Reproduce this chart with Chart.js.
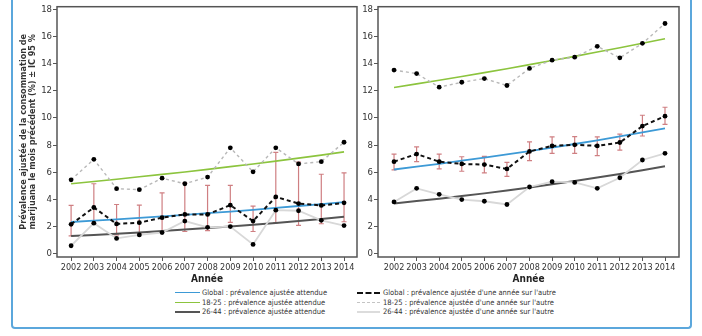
<!DOCTYPE html>
<html>
<head>
<meta charset="utf-8">
<script src="https://cdn.jsdelivr.net/npm/chart.js@4"></script>
<style>
  body { margin: 0; width: 702px; height: 336px; background: #fff; overflow: hidden; position: relative; }
  canvas { position: absolute; }
  #frame { position: absolute; left: 11px; top: -20px; width: 677px; height: 347px;
           border: 2px solid #5ba7dc; border-top: none; border-radius: 0 0 4px 4px; }
  .leg { position: absolute; font-family: "DejaVu Sans Condensed", "DejaVu Sans", sans-serif; font-stretch: condensed;
         font-size: 7.5px; color: #333; white-space: nowrap; }
  .sample { position: absolute; height: 0; }
</style>
</head>
<body>
<div id="frame"></div>
<canvas id="leftChart" width="362" height="285" style="left:0;top:0"></canvas>
<canvas id="rightChart" width="325" height="285" style="left:360px;top:0"></canvas>
<div id="legend"></div>

<script>
// Data
const years = [2002, 2003, 2004, 2005, 2006, 2007, 2008, 2009, 2010, 2011, 2012, 2013, 2014];
const yTicks = [0, 2, 4, 6, 8, 10, 12, 14, 16, 18];

// left panel
const leftGlobalTrend = [2.33, 2.43, 2.53, 2.63, 2.74, 2.86, 2.98, 3.10, 3.23, 3.37, 3.51, 3.65, 3.80];
const leftYoungTrend  = [5.15, 5.31, 5.48, 5.66, 5.84, 6.02, 6.21, 6.41, 6.61, 6.82, 7.04, 7.26, 7.50];
const leftAdultTrend  = [1.30, 1.38, 1.47, 1.56, 1.66, 1.77, 1.88, 2.00, 2.12, 2.26, 2.40, 2.55, 2.71];
const leftGlobal = [2.16, 3.40, 2.19, 2.28, 2.65, 2.89, 2.89, 3.57, 2.40, 4.18, 3.69, 3.55, 3.74];
const leftGlobalLow  = [1.31, 2.24, 1.38, 1.46, 1.63, 1.63, 1.70, 2.30, 1.63, 2.28, 2.08, 2.20, 2.35];
const leftGlobalHigh = [3.55, 5.15, 3.62, 3.57, 4.47, 5.20, 5.03, 5.03, 3.50, 7.46, 6.75, 5.85, 5.95];
const leftYoung = [5.44, 6.95, 4.79, 4.71, 5.56, 5.15, 5.64, 7.80, 6.03, 7.80, 6.61, 6.78, 8.21];
const leftAdult = [0.58, 2.24, 1.12, 1.38, 1.55, 2.40, 1.94, 1.99, 0.68, 3.20, 3.16, 2.45, 2.07];

// right panel
const rightGlobalTrend = [6.20, 6.41, 6.62, 6.85, 7.08, 7.32, 7.56, 7.82, 8.08, 8.35, 8.64, 8.93, 9.23];
const rightYoungTrend  = [12.24, 12.51, 12.78, 13.06, 13.34, 13.63, 13.93, 14.23, 14.54, 14.86, 15.18, 15.51, 15.84];
const rightAdultTrend  = [3.69, 3.87, 4.05, 4.24, 4.44, 4.66, 4.88, 5.11, 5.35, 5.61, 5.87, 6.15, 6.44];
const rightGlobal = [6.78, 7.34, 6.78, 6.61, 6.56, 6.24, 7.53, 7.94, 8.02, 7.94, 8.19, 9.40, 10.13];
const rightGlobalLow  = [6.17, 6.78, 6.24, 6.07, 5.95, 5.69, 6.85, 7.39, 7.39, 7.22, 7.63, 8.67, 9.52];
const rightGlobalHigh = [7.34, 7.87, 7.34, 7.14, 7.16, 6.73, 8.24, 8.60, 8.62, 8.60, 8.80, 10.20, 10.79];
const rightYoung = [13.53, 13.27, 12.27, 12.63, 12.90, 12.39, 13.65, 14.26, 14.48, 15.28, 14.43, 15.50, 16.96];
const rightAdult = [3.81, 4.81, 4.37, 3.98, 3.86, 3.62, 4.91, 5.30, 5.25, 4.81, 5.59, 6.90, 7.39];

const legendItems = [
    ['Global : prévalence ajustée attendue', 'solid', '#3d9ad6', 1.5],
    ['18-25 : prévalence ajustée attendue', 'solid', '#8cc43e', 1.5],
    ['26-44 : prévalence ajustée attendue', 'solid', '#555555', 2],
    ["Global : prévalence ajustée d'une année sur l'autre", 'dashed', '#111111', 2],
    ["18-25 : prévalence ajustée d'une année sur l'autre", 'dashed', '#c4c4c4', 1],
    ["26-44 : prévalence ajustée d'une année sur l'autre", 'solid', '#dcdcdc', 2]
];

const FONT = '"DejaVu Sans Condensed", "DejaVu Sans", sans-serif';

function toPoints(values) {
    return years.map((yr, i) => ({ x: yr, y: values[i] }));
}

// Draw the 95% CI bars and the box round the plot area
const errorBarPlugin = {
    id: 'errorBars',
    beforeDatasetsDraw(chart) {
        const low = chart.options.plugins.errorBars.low;
        const high = chart.options.plugins.errorBars.high;
        const xs = chart.scales.x, ys = chart.scales.y;
        const ctx = chart.ctx;
        ctx.save();
        ctx.strokeStyle = '#cf7f82';
        ctx.lineWidth = 1.2;
        years.forEach((yr, i) => {
            const px = xs.getPixelForValue(yr);
            const top = ys.getPixelForValue(high[i]);
            const bot = ys.getPixelForValue(low[i]);
            ctx.beginPath();
            ctx.moveTo(px, top); ctx.lineTo(px, bot);
            ctx.moveTo(px - 2.5, top); ctx.lineTo(px + 2.5, top);
            ctx.moveTo(px - 2.5, bot); ctx.lineTo(px + 2.5, bot);
            ctx.stroke();
        });
        ctx.restore();
    },
    afterDraw(chart) {
        const a = chart.chartArea;
        const ctx = chart.ctx;
        ctx.save();
        ctx.strokeStyle = '#555';
        ctx.lineWidth = 1.5;
        ctx.strokeRect(a.left, a.top, a.right - a.left, a.bottom - a.top);
        ctx.restore();
    }
};

function makeDatasets(globalTrend, youngTrend, adultTrend, global, young, adult) {
    const dot = { pointRadius: 2.4, pointBackgroundColor: '#000', pointBorderWidth: 0, pointStyle: 'circle' };
    return [
        { data: toPoints(adultTrend), borderColor: '#555555', borderWidth: 2, pointRadius: 0, order: 6 },
        { data: toPoints(youngTrend), borderColor: '#8cc43e', borderWidth: 1.6, pointRadius: 0, order: 5 },
        { data: toPoints(globalTrend), borderColor: '#3d9ad6', borderWidth: 1.8, pointRadius: 0, order: 4 },
        Object.assign({ data: toPoints(adult), borderColor: '#d8d8d8', borderWidth: 1.8, order: 3 }, dot),
        Object.assign({ data: toPoints(young), borderColor: '#b8b8b8', borderWidth: 1.4, borderDash: [3, 3], order: 2 }, dot),
        Object.assign({ data: toPoints(global), borderColor: '#111111', borderWidth: 2, borderDash: [4, 3], order: 1 }, dot)
    ];
}

function makeChart(id, opts) {
    const ctx = document.getElementById(id).getContext('2d');
    return new Chart(ctx, {
        type: 'line',
        data: { datasets: makeDatasets.apply(null, opts.series) },
        options: {
            responsive: false,
            animation: false,
            devicePixelRatio: 1,
            layout: { padding: { top: 4, right: opts.padRight, left: 0, bottom: 0 } },
            elements: { line: { tension: 0 } },
            plugins: {
                legend: { display: false },
                tooltip: { enabled: false },
                errorBars: { low: opts.low, high: opts.high }
            },
            scales: {
                x: {
                    type: 'linear',
                    min: opts.xMin,
                    max: opts.xMax,
                    afterBuildTicks: (scale) => { scale.ticks = years.map(v => ({ value: v })); },
                    afterFit: (scale) => { scale.height = 28; },
                    grid: { drawOnChartArea: false, tickLength: 4, color: '#555' },
                    border: { display: false },
                    ticks: {
                        font: { family: FONT, size: 9, weight: 'condensed' },
                        color: '#333',
                        padding: 1,
                        maxRotation: 0,
                        autoSkip: false,
                        callback: (v) => String(v)
                    },
                    title: { display: true, text: 'Année', font: { family: FONT, size: 10, weight: 'bold condensed' }, color: '#222', padding: 0 }
                },
                y: {
                    min: -0.25,
                    max: 18.2,
                    afterBuildTicks: (scale) => { scale.ticks = yTicks.map(v => ({ value: v })); },
                    afterFit: (scale) => { scale.width = opts.yWidth; },
                    grid: { drawOnChartArea: false, tickLength: 4, color: '#555' },
                    border: { display: false },
                    ticks: { font: { family: FONT, size: 9.5, weight: 'condensed' }, color: '#333', padding: 1 },
                    title: {
                        display: opts.yTitle !== null,
                        text: opts.yTitle || '',
                        font: { family: FONT, size: 9, weight: 'bold condensed', lineHeight: 1.0 },
                        color: '#333',
                        padding: { top: 19, bottom: 0 }
                    }
                }
            }
        },
        plugins: [errorBarPlugin]
    });
}

makeChart('leftChart', {
    series: [leftGlobalTrend, leftYoungTrend, leftAdultTrend, leftGlobal, leftYoung, leftAdult],
    low: leftGlobalLow, high: leftGlobalHigh,
    xMin: 2001.38, xMax: 2014.57,
    padRight: 5, yWidth: 57,
    yTitle: ['Prévalence ajustée de la consommation de', 'marijuana le mois précédent (%) ± IC 95 %']
});

makeChart('rightChart', {
    series: [rightGlobalTrend, rightYoungTrend, rightAdultTrend, rightGlobal, rightYoung, rightAdult],
    low: rightGlobalLow, high: rightGlobalHigh,
    xMin: 2001.29, xMax: 2014.62,
    padRight: 6, yWidth: 18,
    yTitle: null
});

// Legend under both panels
const legend = document.getElementById('legend');
legendItems.forEach((item, i) => {
    const col = i < 3 ? 0 : 1;
    const row = i % 3;
    const cy = 293 + row * 9.5;
    const sx = col === 0 ? 175 : 357;
    const tx = col === 0 ? 202 : 383;
    const line = document.createElement('div');
    line.className = 'sample';
    line.style.left = sx + 'px';
    line.style.width = (col === 0 ? 25 : 23) + 'px';
    line.style.top = (cy - item[3] / 2) + 'px';
    line.style.borderTop = item[3] + 'px ' + item[1] + ' ' + item[2];
    legend.appendChild(line);
    const label = document.createElement('div');
    label.className = 'leg';
    label.style.left = tx + 'px';
    label.style.top = (cy - 5) + 'px';
    label.textContent = item[0];
    legend.appendChild(label);
});
</script>
</body>
</html>
